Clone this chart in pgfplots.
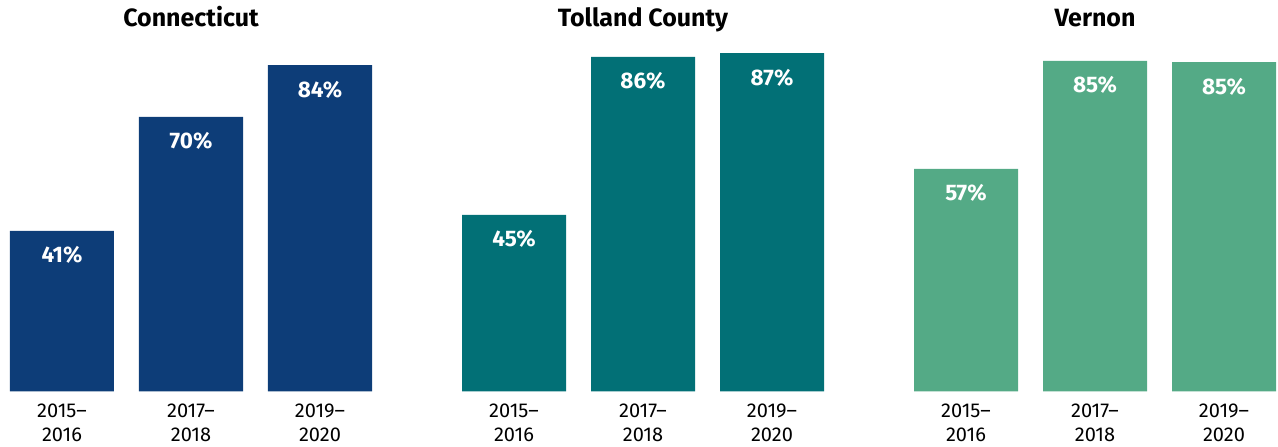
\documentclass[border=0pt]{standalone}
\usepackage{fontspec}
\setmainfont{Fira Sans}
\usepackage{pgfplots}
\pgfplotsset{compat=1.18}
\definecolor{cnavy}{RGB}{13,61,120}
\definecolor{cteal}{RGB}{2,112,118}
\definecolor{cgreen}{RGB}{84,170,134}
\pgfplotsset{panel/.style={
  scale only axis, width=362pt, height=389pt,
  xmin=-0.4031, xmax=2.4031, ymin=0, ymax=100,
  enlargelimits=false, clip=false,
  axis line style={draw=none}, tick style={draw=none}, major tick length=0pt,
  ytick=\empty, xtick={0,1,2},
  xticklabels={{2015–\\2016},{2017–\\2018},{2019–\\2020}},
  xticklabel style={align=center, anchor=north, inner sep=0pt, yshift=-12.5pt,
    font=\fontsize{20}{23.3}\selectfont, text=black},
  ybar, bar width=104pt, bar shift=0pt,
  point meta=explicit symbolic,
  nodes near coords,
  every node near coord/.append style={anchor=base, yshift=-32pt, inner sep=0pt,
    font=\fontsize{22.5}{24}\selectfont\bfseries, text=white},
}}
\begin{document}
\begin{tikzpicture}
\useasboundingbox (0,0) rectangle (1278pt,447pt);
\begin{axis}[panel, at={(10pt,55.5pt)}, anchor=south west]
\addplot[fill=cnavy, draw=none] coordinates {(0,41.3) [41\%] (1,70.6) [70\%] (2,83.9) [84\%]};
\end{axis}
\begin{axis}[panel, at={(462pt,55.5pt)}, anchor=south west]
\addplot[fill=cteal, draw=none] coordinates {(0,45.4) [45\%] (1,86.0) [86\%] (2,87.0) [87\%]};
\end{axis}
\begin{axis}[panel, at={(914pt,55.5pt)}, anchor=south west]
\addplot[fill=cgreen, draw=none] coordinates {(0,57.2) [57\%] (1,85.0) [85\%] (2,84.7) [85\%]};
\end{axis}
\node[anchor=base, inner sep=0pt, font=\fontsize{25}{28}\selectfont\bfseries] at (191pt,420.3pt) {Connecticut};
\node[anchor=base, inner sep=0pt, font=\fontsize{25}{28}\selectfont\bfseries] at (643pt,420.3pt) {Tolland County};
\node[anchor=base, inner sep=0pt, font=\fontsize{25}{28}\selectfont\bfseries] at (1095pt,420.3pt) {Vernon};
\end{tikzpicture}
\end{document}
